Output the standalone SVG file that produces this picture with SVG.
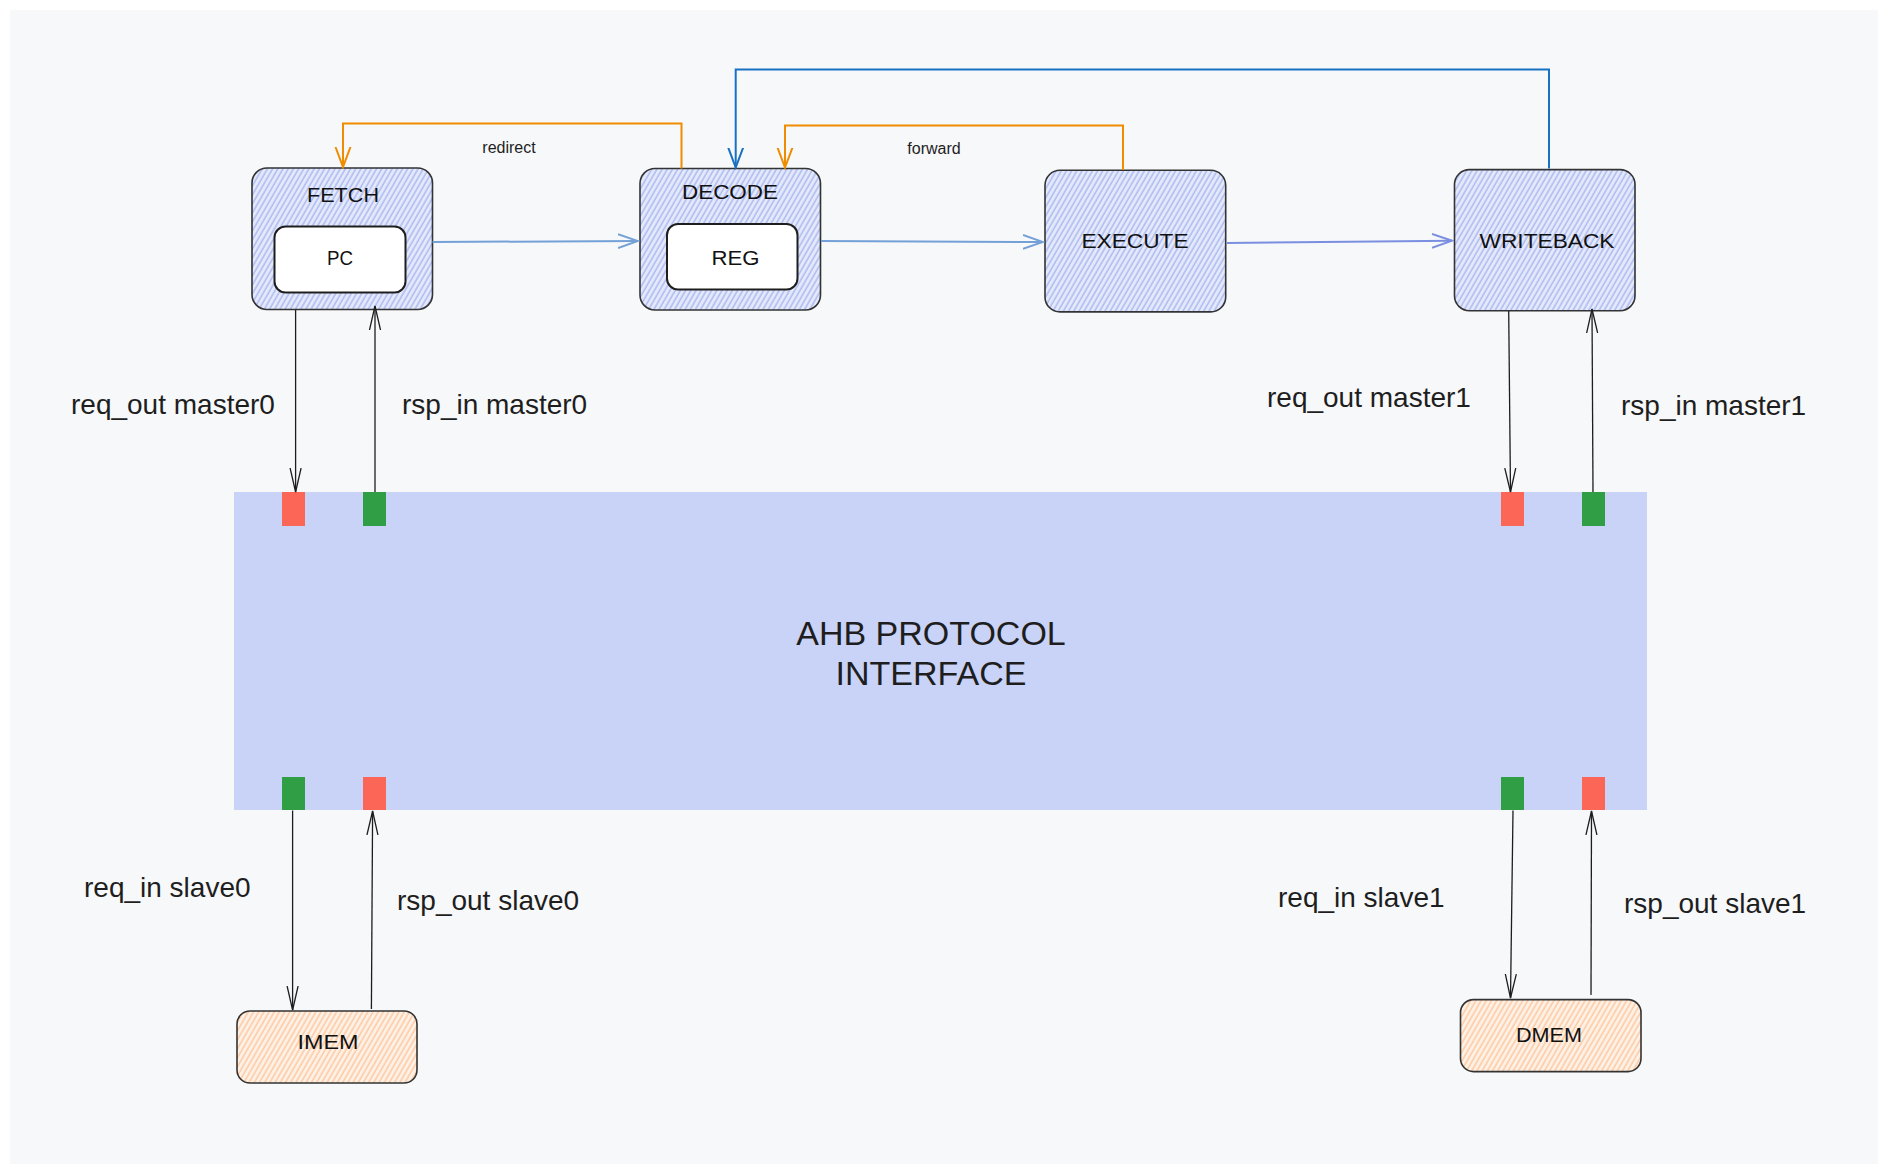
<svg xmlns="http://www.w3.org/2000/svg" width="1888" height="1174" viewBox="0 0 1888 1174">
<defs>
<style>
.box{stroke:#333;stroke-width:1.6}
.inner{fill:#fff;stroke:#1e1e1e;stroke-width:2}
.nl{font-family:"Liberation Sans",Arial,sans-serif;font-size:20px;fill:#111;text-anchor:middle;lengthAdjust:spacingAndGlyphs}
.lbl{font-family:"Liberation Sans",Arial,sans-serif;font-size:28px;fill:#1e1e1e}
.sm{font-family:"Liberation Sans",Arial,sans-serif;font-size:16px;fill:#1e1e1e;text-anchor:middle}
.big{font-family:"Liberation Sans",Arial,sans-serif;font-size:34px;fill:#1e1e1e;text-anchor:middle}
.blk{fill:none;stroke:#1e1e1e;stroke-width:1.3}
.org{fill:none;stroke:#f08c00;stroke-width:2}
.dblue{fill:none;stroke:#1971c2;stroke-width:2}
.lblue{fill:none;stroke:#74a0d8;stroke-width:2}
.pblue{fill:none;stroke:#7b8fe0;stroke-width:2}
.red{fill:#fc6656}
.grn{fill:#2f9e44}
</style>
<pattern id="hb" width="4.5" height="10" patternUnits="userSpaceOnUse" patternTransform="rotate(30)">
<rect width="4.5" height="10" fill="#e3e8fb"/>
<line x1="1" y1="0" x2="1" y2="10" stroke="#a6b4ee" stroke-width="1.3"/>
</pattern>
<pattern id="ho" width="4.5" height="10" patternUnits="userSpaceOnUse" patternTransform="rotate(30)">
<rect width="4.5" height="10" fill="#fdf0e4"/>
<line x1="1" y1="0" x2="1" y2="10" stroke="#ffc49a" stroke-width="1.3"/>
</pattern>
<marker id="ak" markerUnits="userSpaceOnUse" markerWidth="26" markerHeight="14" refX="24" refY="7" orient="auto">
<path d="M0,1.5 L24,7 L0,12.5" fill="none" stroke="#1e1e1e" stroke-width="1.3"/>
</marker>
<marker id="ao" markerUnits="userSpaceOnUse" markerWidth="22" markerHeight="18" refX="20" refY="9" orient="auto">
<path d="M0,1.5 L20,9 L0,16.5" fill="none" stroke="#f08c00" stroke-width="2"/>
</marker>
<marker id="ad" markerUnits="userSpaceOnUse" markerWidth="22" markerHeight="18" refX="20" refY="9" orient="auto">
<path d="M0,1.5 L20,9 L0,16.5" fill="none" stroke="#1971c2" stroke-width="2"/>
</marker>
<marker id="al" markerUnits="userSpaceOnUse" markerWidth="22" markerHeight="18" refX="20" refY="9" orient="auto">
<path d="M0,2 L20,9 L0,16" fill="none" stroke="#74a0d8" stroke-width="2"/>
</marker>
<marker id="ap" markerUnits="userSpaceOnUse" markerWidth="22" markerHeight="18" refX="20" refY="9" orient="auto">
<path d="M0,2 L20,9 L0,16" fill="none" stroke="#7b8fe0" stroke-width="2"/>
</marker>
</defs>
<rect x="0" y="0" width="1888" height="1174" fill="#ffffff"/>
<rect x="10" y="10" width="1868" height="1154" fill="#f7f8fa"/>

<g id="ahb">
<rect x="234" y="492" width="1413" height="318" fill="#c9d3f7"/>
<text class="big" x="931" y="645">AHB PROTOCOL</text>
<text class="big" x="931" y="685">INTERFACE</text>
<rect class="red" x="282" y="492" width="23" height="34"/>
<rect class="grn" x="363" y="492" width="23" height="34"/>
<rect class="red" x="1501" y="492" width="23" height="34"/>
<rect class="grn" x="1582" y="492" width="23" height="34"/>
<rect class="grn" x="282" y="777" width="23" height="33"/>
<rect class="red" x="363" y="777" width="23" height="33"/>
<rect class="grn" x="1501" y="777" width="23" height="33"/>
<rect class="red" x="1582" y="777" width="23" height="33"/>
</g>

<g id="fetch">
<rect class="box" x="252" y="168" width="180.5" height="141.5" rx="15" fill="url(#hb)"/>
<text class="nl" x="343" y="201.5" textLength="72" lengthAdjust="spacingAndGlyphs">FETCH</text>
<rect class="inner" x="274.5" y="226.5" width="131" height="66" rx="11"/>
<text class="nl" x="340" y="264.5" textLength="26" lengthAdjust="spacingAndGlyphs">PC</text>
</g>

<g id="decode">
<rect class="box" x="640" y="168.5" width="180.5" height="141.5" rx="15" fill="url(#hb)"/>
<text class="nl" x="730" y="198.5" textLength="96" lengthAdjust="spacingAndGlyphs">DECODE</text>
<rect class="inner" x="667" y="224" width="130.5" height="65.5" rx="11"/>
<text class="nl" x="735.5" y="265" textLength="48" lengthAdjust="spacingAndGlyphs">REG</text>
</g>

<g id="execute">
<rect class="box" x="1045" y="170.3" width="180.7" height="141.6" rx="15" fill="url(#hb)"/>
<text class="nl" x="1135" y="248" textLength="107" lengthAdjust="spacingAndGlyphs">EXECUTE</text>
</g>

<g id="writeback">
<rect class="box" x="1454.5" y="169.6" width="180.5" height="141.2" rx="15" fill="url(#hb)"/>
<text class="nl" x="1547" y="248" textLength="135" lengthAdjust="spacingAndGlyphs">WRITEBACK</text>
</g>

<g id="imem">
<rect class="box" x="237" y="1011" width="180" height="72" rx="13" fill="url(#ho)"/>
<text class="nl" x="328" y="1049" textLength="61" lengthAdjust="spacingAndGlyphs">IMEM</text>
</g>

<g id="dmem">
<rect class="box" x="1460.5" y="999.6" width="180.5" height="72" rx="13" fill="url(#ho)"/>
<text class="nl" x="1549" y="1041.5" textLength="66" lengthAdjust="spacingAndGlyphs">DMEM</text>
</g>

<g id="connectors">
<path class="org" d="M681.5,168.5 V123.5 H343 V167" marker-end="url(#ao)"/>
<path class="org" d="M1123,170 V125.4 H785 V167.5" marker-end="url(#ao)"/>
<path class="dblue" d="M1549,168.5 V69.5 H735.7 V167.5" marker-end="url(#ad)"/>
<path class="lblue" d="M432.5,242 L638,241" marker-end="url(#al)"/>
<path class="lblue" d="M821,241 L1043,242" marker-end="url(#al)"/>
<path class="pblue" d="M1227,243 L1452,240.7" marker-end="url(#ap)"/>
<path class="blk" d="M295.6,310 L295.6,492" marker-end="url(#ak)"/>
<path class="blk" d="M375,492 L375,306" marker-end="url(#ak)"/>
<path class="blk" d="M1508.7,311 L1510.5,492" marker-end="url(#ak)"/>
<path class="blk" d="M1593,492 L1592,309" marker-end="url(#ak)"/>
<path class="blk" d="M292.6,810.5 L292.6,1010" marker-end="url(#ak)"/>
<path class="blk" d="M371.4,1009 L372.6,811" marker-end="url(#ak)"/>
<path class="blk" d="M1513,810.5 L1510.5,998" marker-end="url(#ak)"/>
<path class="blk" d="M1591,995 L1591.5,811" marker-end="url(#ak)"/>
<text class="sm" x="509" y="153">redirect</text>
<text class="sm" x="934" y="154">forward</text>
<text class="lbl" x="71" y="414">req_out master0</text>
<text class="lbl" x="402" y="414">rsp_in master0</text>
<text class="lbl" x="1267" y="407">req_out master1</text>
<text class="lbl" x="1621" y="415">rsp_in master1</text>
<text class="lbl" x="84" y="897">req_in slave0</text>
<text class="lbl" x="397" y="910">rsp_out slave0</text>
<text class="lbl" x="1278" y="907">req_in slave1</text>
<text class="lbl" x="1624" y="913">rsp_out slave1</text>
</g>
</svg>
